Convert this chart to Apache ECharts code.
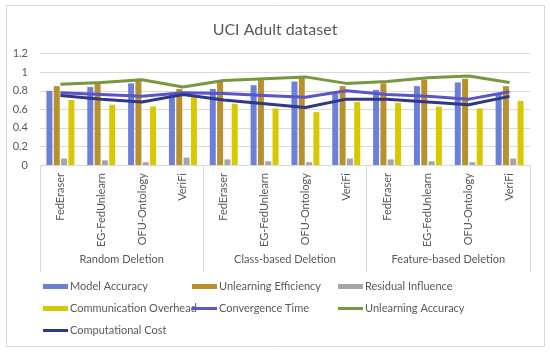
<!DOCTYPE html>
<html>
<head>
<meta charset="utf-8">
<script src="https://cdn.jsdelivr.net/npm/echarts@6/dist/echarts.min.js"></script>
<style>html,body{margin:0;padding:0;background:#fff}#c{width:550px;height:353px}</style>
</head>
<body>
<div id="c"></div>
<script>
const methods = ['FedEraser','EG-FedUnlearn','OFU-Ontology','VeriFi','FedEraser','EG-FedUnlearn','OFU-Ontology','VeriFi','FedEraser','EG-FedUnlearn','OFU-Ontology','VeriFi'];
const scenarios = ['Random Deletion','Class-based Deletion','Feature-based Deletion'];
const yTicks = [0, 0.2, 0.4, 0.6, 0.8, 1, 1.2];

const modelAccuracy        = [0.80,0.84,0.88,0.77, 0.82,0.86,0.90,0.77, 0.81,0.85,0.89,0.76];
const unlearningEfficiency = [0.85,0.89,0.93,0.82, 0.91,0.92,0.94,0.85, 0.88,0.92,0.93,0.85];
const residualInfluence    = [0.07,0.05,0.03,0.08, 0.06,0.04,0.03,0.07, 0.06,0.04,0.03,0.07];
const communicationOverhead= [0.70,0.65,0.63,0.73, 0.66,0.61,0.57,0.68, 0.67,0.63,0.61,0.69];
const convergenceTime      = [0.78,0.76,0.74,0.78, 0.77,0.75,0.73,0.80, 0.76,0.74,0.71,0.79];
const unlearningAccuracy   = [0.87,0.89,0.92,0.84, 0.91,0.93,0.95,0.88, 0.90,0.94,0.96,0.89];
const computationalCost    = [0.75,0.71,0.68,0.76, 0.70,0.66,0.62,0.71, 0.71,0.68,0.65,0.74];

const txt = '#595959';
const font = 'Lato';
const chart = echarts.init(document.getElementById('c'));

const legendPos = [
  ['Model Accuracy', 43, 281, 5],
  ['Unlearning Efficiency', 192, 281, 5],
  ['Residual Influence', 338, 281, 5],
  ['Communication Overhead', 43, 303, 5],
  ['Convergence Time', 192, 303, 3],
  ['Unlearning Accuracy', 338, 303, 3],
  ['Computational Cost', 43, 325, 3]
];

const bar = (name, data, color) => ({
  name, type: 'bar', data, barWidth: 6, barGap: '22%',
  itemStyle: { color }, xAxisIndex: 0
});
const line = (name, data, color) => ({
  name, type: 'line', data, symbol: 'none', xAxisIndex: 0,
  lineStyle: { color, width: 3 }, itemStyle: { color }, z: 3
});

chart.setOption({
  animation: false,
  textStyle: { fontFamily: font },
  title: {
    text: 'UCI Adult dataset', left: 'center', top: 17,
    textStyle: { fontFamily: font, fontSize: 16, fontWeight: 'normal', color: txt }
  },
  graphic: [{
    type: 'rect', shape: { x: 6.5, y: 5.5, width: 538, height: 341 },
    style: { fill: 'none', stroke: '#D9D9D9', lineWidth: 1 }, silent: true, z: -10
  }],
  legend: legendPos.map(([n, x, y, h]) => ({
    data: [n], left: x, top: y, itemWidth: 25, itemHeight: h, itemGap: 0,
    icon: 'rect', padding: 0,
    textStyle: { fontFamily: font, fontSize: 11, color: txt, padding: [0, 0, 0, -3] }
  })),
  grid: { left: 40, right: 20, top: 53.7, bottom: 188 },
  xAxis: [{
    type: 'category', data: methods,
    axisLine: { lineStyle: { color: '#D9D9D9' } },
    axisTick: { show: false },
    axisLabel: { rotate: 90, interval: 0, margin: 8, fontSize: 11, color: txt, fontFamily: font }
  }, {
    type: 'category', data: scenarios, position: 'bottom',
    axisLine: { show: false },
    axisTick: { show: true, length: 107, alignWithLabel: false, interval: 0, lineStyle: { color: '#D9D9D9' } },
    axisLabel: { margin: 89, fontSize: 11, color: txt, fontFamily: font, interval: 0 }
  }],
  yAxis: {
    type: 'value', min: yTicks[0], max: yTicks[yTicks.length - 1], interval: 0.2,
    axisLine: { show: false }, axisTick: { show: false },
    axisLabel: { fontSize: 11, color: txt, fontFamily: font, margin: 12 },
    splitLine: { lineStyle: { color: '#D9D9D9' } }
  },
  series: [
    bar('Model Accuracy', modelAccuracy, '#6B80D6'),
    bar('Unlearning Efficiency', unlearningEfficiency, '#B8902E'),
    bar('Residual Influence', residualInfluence, '#A5A5A5'),
    bar('Communication Overhead', communicationOverhead, '#D8C800'),
    line('Convergence Time', convergenceTime, '#5A55C8'),
    line('Unlearning Accuracy', unlearningAccuracy, '#77983E'),
    line('Computational Cost', computationalCost, '#2D3887')
  ]
});
</script>
</body>
</html>
